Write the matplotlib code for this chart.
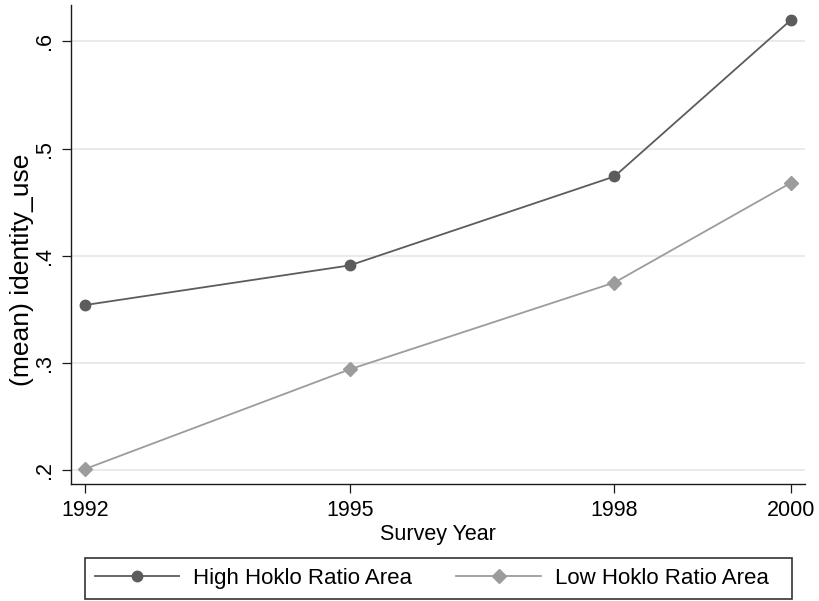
import matplotlib
matplotlib.use("Agg")
import matplotlib.pyplot as plt
from matplotlib.patches import Rectangle

# Survey waves and group means of identity_use
years = [1992, 1995, 1998, 2000]
high_hoklo = [0.354, 0.391, 0.474, 0.620]
low_hoklo = [0.201, 0.294, 0.375, 0.468]

series_labels = ["High Hoklo Ratio Area", "Low Hoklo Ratio Area"]
y_ticks = [0.2, 0.3, 0.4, 0.5, 0.6]
y_tick_labels = [".2", ".3", ".4", ".5", ".6"]
x_label = "Survey Year"
y_label = "(mean) identity_use"

plt.rcParams["font.family"] = ["Liberation Sans", "DejaVu Sans"]
FS = 15.5
W, H = 819, 601

fig = plt.figure(figsize=(W / 100, H / 100), dpi=100)
ax = fig.add_axes([71 / W, 117 / H, 734 / W, 479 / H])

ax.set_axisbelow(True)
ax.grid(axis="y", color="#e6e6e6", linewidth=1.2)
ax.grid(axis="x", visible=False)

ax.plot(years, high_hoklo, color="#5c5c5c", linewidth=1.3, marker="o",
        markersize=7.5, label=series_labels[0], zorder=3)
ax.plot(years, low_hoklo, color="#9c9c9c", linewidth=1.3, marker="D",
        markersize=7.5, label=series_labels[1], zorder=3)

ax.set_xlim(1991.84, 2000.16)
ax.set_ylim(0.187, 0.634)
ax.set_xticks(years)
ax.set_xticklabels([str(y) for y in years], fontsize=FS)
ax.set_yticks(y_ticks)
ax.set_yticklabels(y_tick_labels, fontsize=FS, rotation=90, va="center")

for side in ("top", "right"):
    ax.spines[side].set_visible(False)
for side in ("left", "bottom"):
    ax.spines[side].set_color("#1a1a1a")
    ax.spines[side].set_linewidth(1.0)

ax.tick_params(axis="both", direction="out", length=6.5, width=0.9,
               color="#1a1a1a", labelcolor="black")
ax.tick_params(axis="x", pad=5)
ax.tick_params(axis="y", pad=5)

ax.set_xlabel(x_label, fontsize=FS, labelpad=2)
ax.set_ylabel(y_label, fontsize=19)
ax.yaxis.set_label_coords(-0.051, 0.447)

# legend entries in one row, with a plain rectangular frame around them
leg = fig.legend(loc="center left", bbox_to_anchor=(95 / W, 22.5 / H),
                 ncol=2, fontsize=16, frameon=False, borderpad=0,
                 borderaxespad=0, handlelength=3.8, handletextpad=0.63,
                 columnspacing=1.98)
fig.add_artist(Rectangle((85 / W, 2 / H), 707 / W, 41 / H,
                         transform=fig.transFigure, fill=False,
                         edgecolor="#333333", linewidth=1.2))

fig.savefig("out.png", dpi=100, facecolor="white")
